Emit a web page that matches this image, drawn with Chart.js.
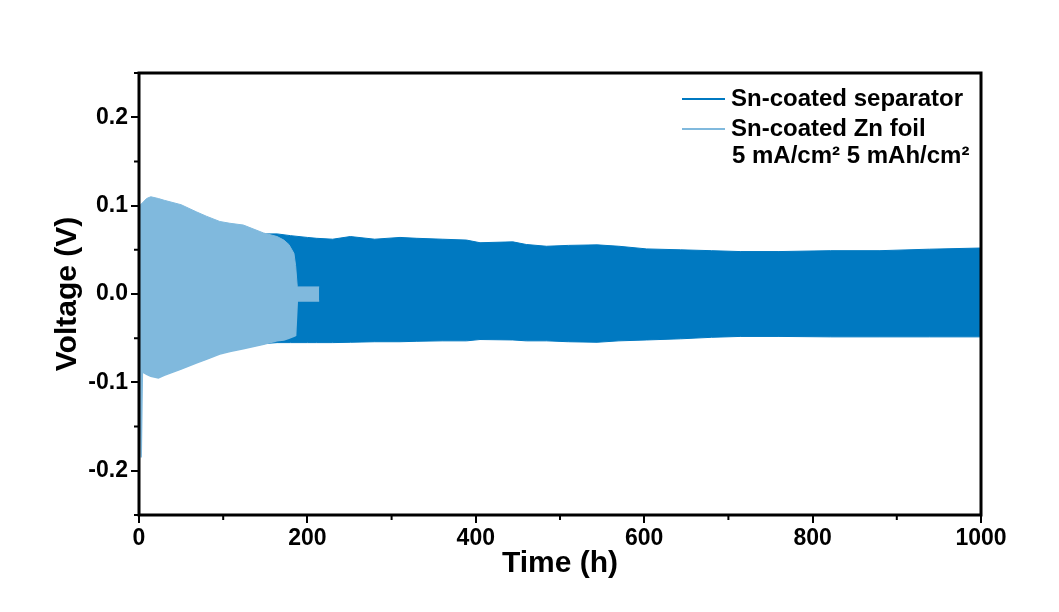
<!DOCTYPE html>
<html>
<head>
<meta charset="UTF-8">
<title>Voltage profile</title>
<script src="https://cdn.jsdelivr.net/npm/chart.js"></script>
<style>
body { margin: 0; background: #fff; }
#wrap { width: 1059px; height: 612px; }
</style>
</head>
<body>
<div id="wrap"><canvas id="volt" width="1059" height="612"></canvas></div>
<script>
// envelope of the cycling curves (upper / lower voltage)
const foilTime  = [0.8, 1.2, 2.6, 4, 9, 14, 23, 30, 50, 68, 80, 96, 108, 124, 148, 164, 172, 178, 184, 186, 188, 214];
const foilUpper = [0.095, 0.100, 0.102, 0.103, 0.108, 0.110, 0.108, 0.106, 0.101, 0.093, 0.088, 0.082, 0.080, 0.078, 0.069, 0.065, 0.061, 0.056, 0.046, 0.032, 0.008, 0.008];
const foilLower = [-0.090, -0.100, -0.185, -0.088, -0.091, -0.093, -0.095, -0.092, -0.085, -0.078, -0.074, -0.068, -0.065, -0.062, -0.057, -0.053, -0.052, -0.050, -0.048, -0.047, -0.008, -0.008];

const sepTime  = [0, 2, 50, 100, 150, 164, 180, 200, 211, 230, 251, 280, 310, 330, 360, 389, 405, 444, 460, 484, 510, 544, 570, 603, 643, 680, 714, 760, 821, 880, 939, 999];
const sepUpper = [0.090, 0.080, 0.075, 0.070, 0.068, 0.068, 0.066, 0.064, 0.063, 0.062, 0.065, 0.062, 0.064, 0.063, 0.062, 0.061, 0.058, 0.059, 0.056, 0.054, 0.055, 0.0556, 0.054, 0.051, 0.050, 0.049, 0.048, 0.048, 0.049, 0.049, 0.0507, 0.052];
const sepLower = [0.000, -0.050, -0.060, -0.058, -0.056, -0.055, -0.055, -0.055, -0.055, -0.055, -0.0546, -0.054, -0.054, -0.0535, -0.053, -0.053, -0.0515, -0.052, -0.053, -0.053, -0.054, -0.0546, -0.053, -0.052, -0.0507, -0.049, -0.048, -0.048, -0.0485, -0.0485, -0.0485, -0.0485];

const xTicks = [0, 200, 400, 600, 800, 1000];
const xMinor = [100, 300, 500, 700, 900];
const yTicks = [-0.2, -0.1, 0, 0.1, 0.2];
const yMinor = [-0.25, -0.15, -0.05, 0.05, 0.15, 0.25];
const seriesNames = ['Sn-coated separator', 'Sn-coated Zn foil'];
const noteText = '5 mA/cm² 5 mAh/cm²';

const darkBlue = '#0079c1';
const lightBlue = '#80b9dd';
const FONT = '"Liberation Sans", Arial, sans-serif';

function pts(t, v) { return t.map((x, i) => ({ x: x, y: v[i] })); }

// frame, minor ticks and the legend box inside the plot
const decor = {
  id: 'decor',
  afterDraw(chart) {
    const c = chart.ctx, a = chart.chartArea;
    const xs = chart.scales.x, ys = chart.scales.y;
    c.save();
    c.strokeStyle = '#000';
    c.lineWidth = 3;
    c.strokeRect(a.left, a.top, a.right - a.left, a.bottom - a.top);
    c.lineWidth = 2;
    c.beginPath();
    xMinor.forEach(v => {
      const px = xs.getPixelForValue(v);
      c.moveTo(px, a.bottom); c.lineTo(px, a.bottom + 5);
    });
    yMinor.forEach(v => {
      const py = ys.getPixelForValue(v);
      c.moveTo(a.left, py); c.lineTo(a.left - 5, py);
    });
    c.stroke();

    // legend
    const cols = [darkBlue, lightBlue];
    const rows = [99, 129];
    c.lineWidth = 2;
    rows.forEach((y, i) => {
      c.strokeStyle = cols[i];
      c.beginPath(); c.moveTo(682, y); c.lineTo(725, y); c.stroke();
    });
    c.fillStyle = '#000';
    c.font = 'bold 24px ' + FONT;
    c.textBaseline = 'middle';
    c.fillText(seriesNames[0], 731, rows[0]);
    c.fillText(seriesNames[1], 731, rows[1]);
    c.fillText(noteText, 732, 156);
    c.restore();
  }
};

new Chart(document.getElementById('volt'), {
  type: 'line',
  data: {
    datasets: [
      { label: seriesNames[1], data: pts(foilTime, foilUpper), borderColor: lightBlue, backgroundColor: lightBlue, fill: '+1', borderWidth: 1, pointRadius: 0, tension: 0 },
      { label: seriesNames[1] + ' low', data: pts(foilTime, foilLower), borderColor: lightBlue, borderWidth: 1.5, pointRadius: 0, tension: 0, fill: false },
      { label: seriesNames[0], data: pts(sepTime, sepUpper), borderColor: darkBlue, backgroundColor: darkBlue, fill: '+1', borderWidth: 1, pointRadius: 0, tension: 0 },
      { label: seriesNames[0] + ' low', data: pts(sepTime, sepLower), borderColor: darkBlue, borderWidth: 1, pointRadius: 0, tension: 0, fill: false }
    ]
  },
  options: {
    responsive: false,
    animation: false,
    layout: { padding: { top: 73, right: 78, left: 0, bottom: 0 } },
    plugins: { legend: { display: false }, tooltip: { enabled: false } },
    scales: {
      x: {
        type: 'linear', min: 0, max: 1000,
        afterFit: s => { s.height = 97; },
        afterBuildTicks: s => { s.ticks = xTicks.map(v => ({ value: v })); },
        border: { display: false },
        grid: { drawOnChartArea: false, tickLength: 8, color: '#000', lineWidth: 2 },
        ticks: { color: '#000', padding: 2, maxRotation: 0, callback: v => String(v), font: { family: FONT, size: 23, weight: 'bold' } },
        title: { display: true, text: 'Time (h)', color: '#000', padding: { top: 0, bottom: 30 }, font: { family: FONT, size: 30, weight: 'bold' } }
      },
      y: {
        type: 'linear', min: -0.25, max: 0.25,
        afterFit: s => { s.width = 139; },
        afterBuildTicks: s => { s.ticks = yTicks.map(v => ({ value: v })); },
        border: { display: false },
        grid: { drawOnChartArea: false, tickLength: 8, color: '#000', lineWidth: 2 },
        ticks: { color: '#000', padding: 3, callback: v => v.toFixed(1), font: { family: FONT, size: 23, weight: 'bold' } },
        title: { display: true, text: 'Voltage (V)', color: '#000', padding: { top: 50, bottom: 0 }, font: { family: FONT, size: 30, weight: 'bold' } }
      }
    }
  },
  plugins: [decor]
});
</script>
</body>
</html>
